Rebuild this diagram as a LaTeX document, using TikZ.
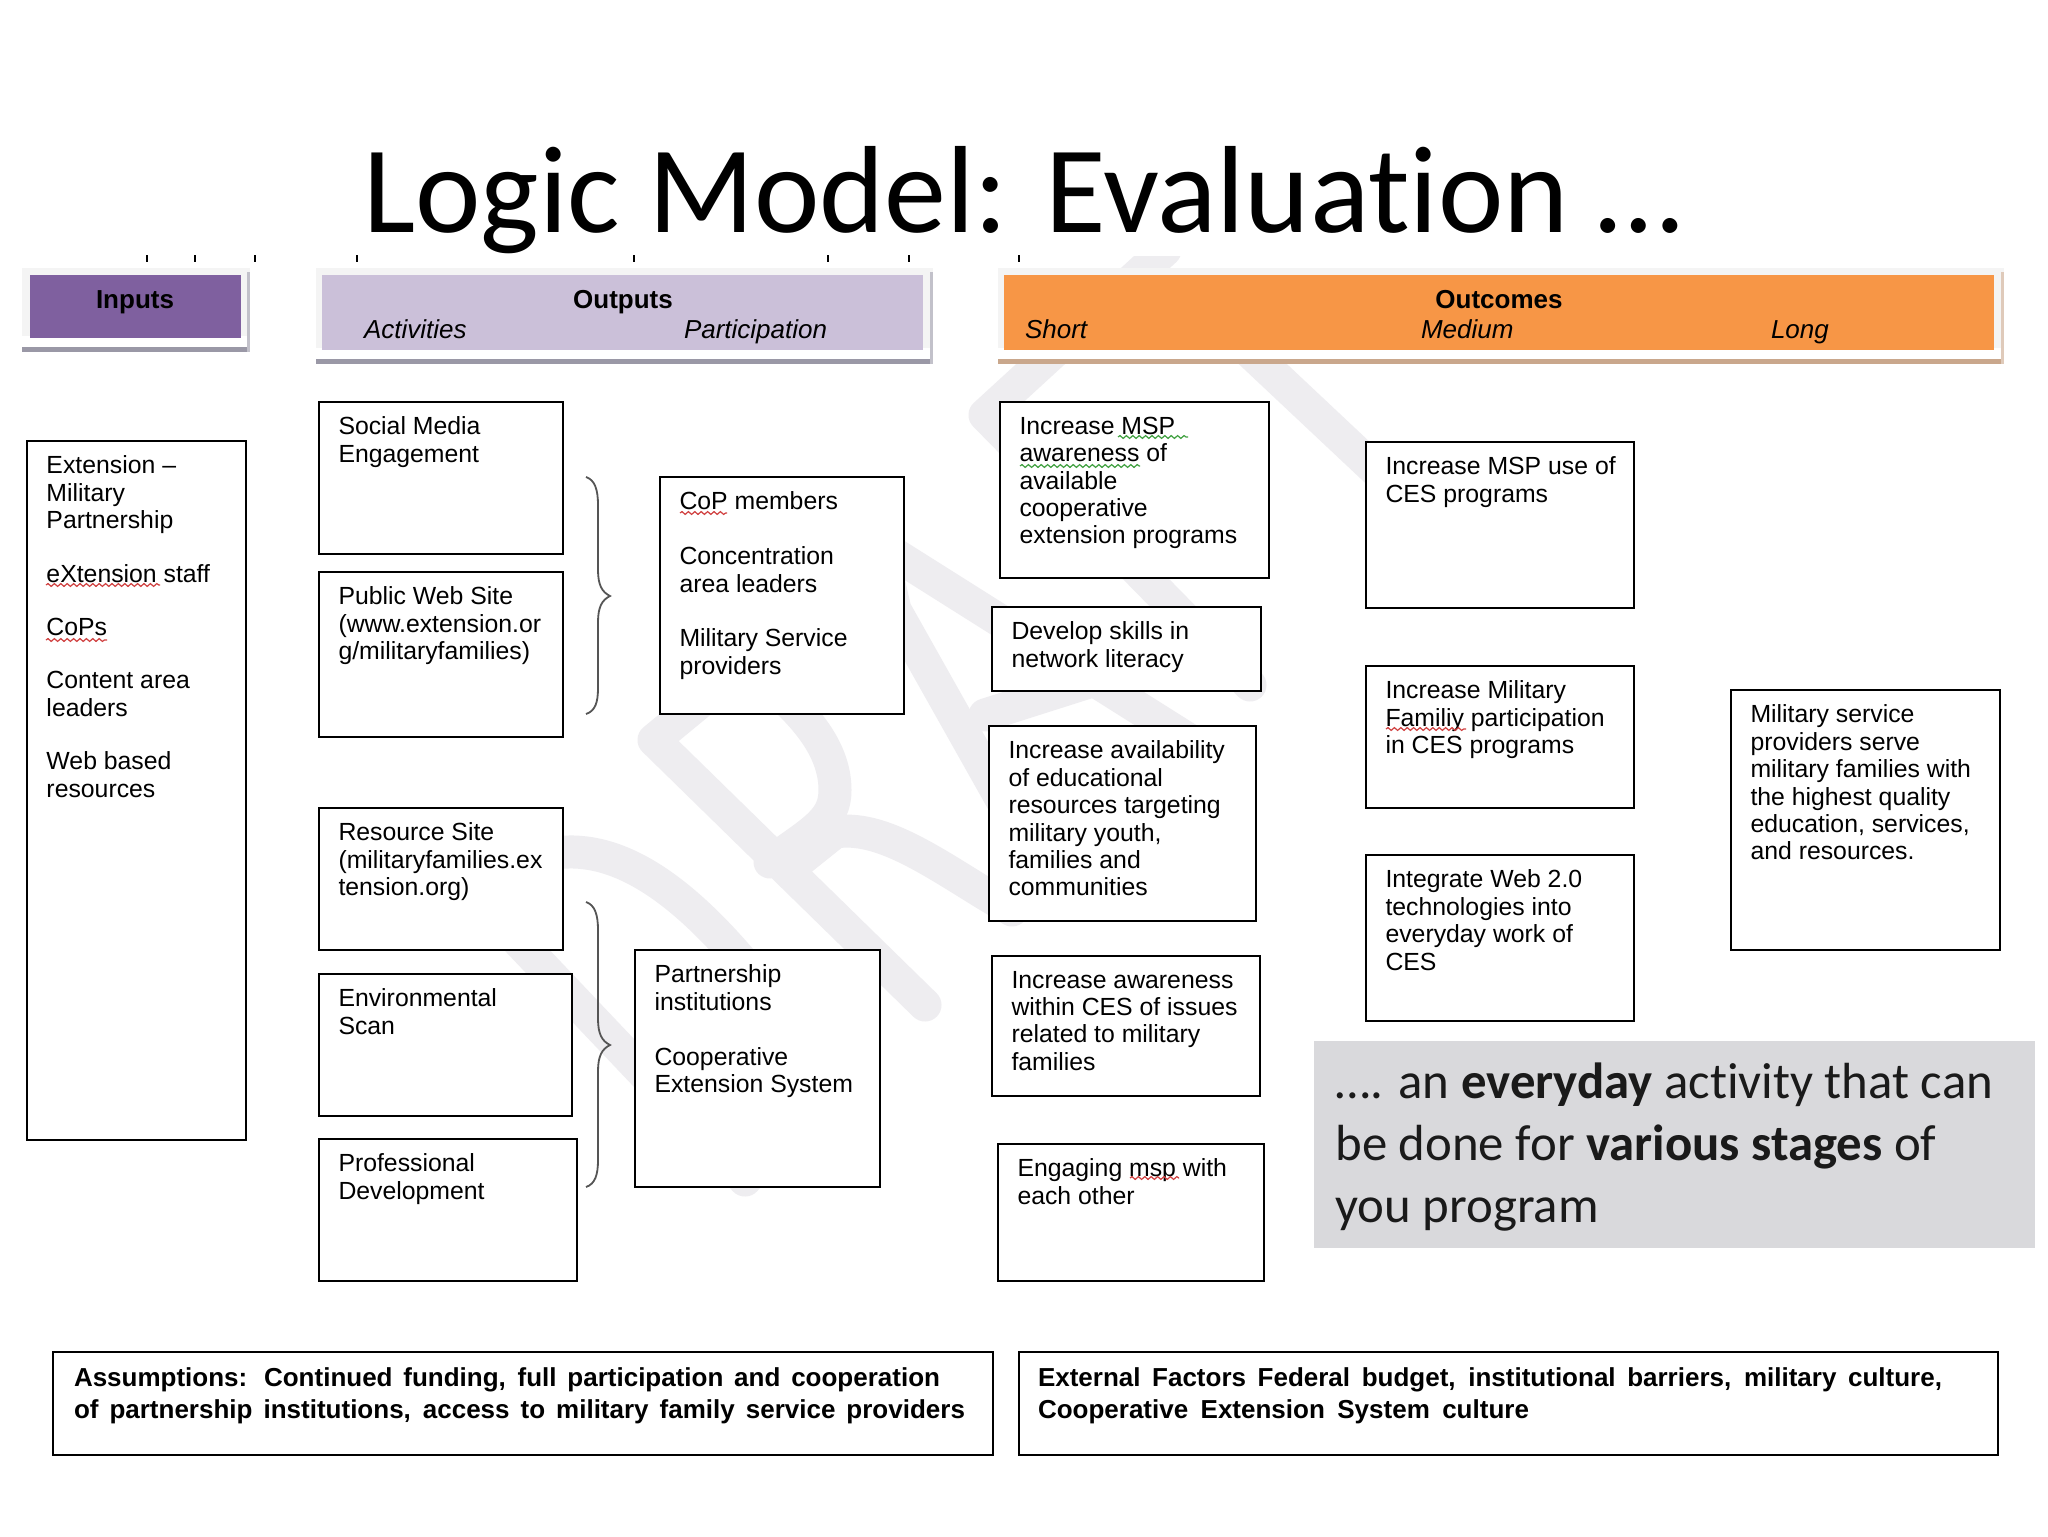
\documentclass[tikz,border=0pt]{standalone}
\usepackage{fontspec}
\setmainfont{Liberation Sans}
\newfontfamily\carl[Ligatures=NoCommon]{Carlito}
\usetikzlibrary{decorations.pathmorphing}
\tikzset{
  x=0.5pt,y=-0.5pt,
  boxst/.style={draw=black,fill=white,line width=1.25pt,rectangle,inner sep=0pt,outer sep=0pt,anchor=north west},
  txt/.style={inner sep=0pt,outer sep=0pt,anchor=north west,align=left,font=\fontsize{12.4pt}{13.7pt}\selectfont},
  hd/.style={inner sep=0pt,outer sep=0pt,anchor=base,font=\fontsize{13pt}{15pt}\selectfont\bfseries},
  sub/.style={inner sep=0pt,outer sep=0pt,anchor=base west,font=\fontsize{13pt}{15pt}\selectfont\itshape},
  wm/.style={draw=wmgrey,line width=16.5pt,line cap=round,line join=round},
  bracest/.style={draw=bracegrey,line width=0.9pt},
  squig/.style={draw=#1,line width=0.6pt,decorate,decoration={snake,amplitude=0.7pt,segment length=3.2pt}},
  tick/.style={draw=black,line width=1pt},
  foot/.style={inner sep=0pt,outer sep=0pt,anchor=base west,font=\fontsize{13pt}{15pt}\selectfont\bfseries},
}
\definecolor{wmgrey}{HTML}{EEEDF0}
\definecolor{bracegrey}{HTML}{555555}
\definecolor{panel}{HTML}{F4F4F4}
\definecolor{purp}{HTML}{7F609F}
\definecolor{lav}{HTML}{CBC0D9}
\definecolor{orng}{HTML}{F79646}
\definecolor{shA}{HTML}{9A98A6}
\definecolor{shB}{HTML}{C9A78C}
\definecolor{callout}{HTML}{D9D9DC}
\definecolor{notetext}{HTML}{1A1A1A}
\definecolor{sqred}{HTML}{D04040}
\definecolor{sqgreen}{HTML}{40A040}
\newcommand{\bx}[6]{%
  \node[boxst,minimum width=(#4-#2)*0.5pt,minimum height=(#5-#3)*0.5pt] (#1) at (#2,#3) {};
  \node[txt] (#1t) at (#2+19.5,#3+15) {#6};}
\newcommand{\pan}[7]{% x1 inner-x1 inner-x2 x2 bottom inner-bottom colour shadow
  \fill[panel] (#1,268) rectangle (#4,#5);
  \fill[#7] (#1,#5-5) rectangle (#4,#5);
  \fill[#7!60!white] (#4-3,272) rectangle (#4,#5);
  \fill[white] (#1,#5-16) rectangle (#4-3,#5-5);}
\begin{document}
\begin{tikzpicture}
\useasboundingbox (0,0) rectangle (2048,1536);
\fill[white] (0,0) rectangle (2048,1536);
% watermark
\begin{scope}
\clip (0,256) rectangle (2048,1536);
% D
\draw[wm] (470,890) -- (745,1180) .. controls (800,1120) and (815,1040) .. (745,965) .. controls (690,900) and (630,850) .. (567,852) .. controls (530,852) and (500,865) .. (470,890);
% R
\draw[wm] (925,1005) -- (654,740) -- (745,665) .. controls (790,700) and (835,740) .. (835,790) .. controls (835,820) and (815,830) .. (770,862);
\draw[wm] (790,868) -- (835,832) .. controls (880,825) and (930,860) .. (987,895) -- (1012,910);
% A
\draw[wm] (1205,750) -- (880,545) -- (895,610) -- (985,770) -- (1030,850);
\draw[wm] (985,715) -- (1095,680);
% F
\draw[wm] (1165,250) -- (985,415) -- (1250,685);
\draw[wm] (1090,520) -- (1200,430);
% T
\draw[wm] (1200,305) -- (1450,540);
\end{scope}
% clipped remnant ticks
\foreach \tx in {147,195,255,357,634,828,909,1019} \draw[tick] (\tx,255) -- (\tx,262);
% title
\node[inner sep=0pt,anchor=base,font=\fontsize{62pt}{70pt}\selectfont\carl] (title) at (1023,232) {Logic Model: Evaluation …};
% header panels
\pan{22}{30}{241}{250}{352}{338}{shA}
\fill[purp] (30,275) rectangle (241,338);
\pan{316}{322}{923}{933}{364}{350}{shA}
\fill[lav] (322,275) rectangle (923,350);
\pan{998}{1004}{1994}{2004}{364}{350}{shB}
\fill[orng] (1004,275) rectangle (1994,350);
\node[hd] (hInputs) at (135,308) {Inputs};
\node[hd] (hOutputs) at (623,308) {Outputs};
\node[sub] (hAct) at (364,338) {Activities};
\node[sub] (hPart) at (684,338) {Participation};
\node[hd] (hOutcomes) at (1499,308) {Outcomes};
\node[sub] (hShort) at (1025,338) {Short};
\node[sub] (hMed) at (1421,338) {Medium};
\node[sub] (hLong) at (1771,338) {Long};
% boxes
\bx{inp}{27}{441}{246}{1140}{Extension –\\Military\\Partnership\\[13pt]eXtension staff\\[13pt]CoPs\\[13pt]Content area\\leaders\\[13pt]Web based\\resources}
\bx{soc}{319}{402}{563}{554}{Social Media\\Engagement}
\bx{pub}{319}{572}{563}{737}{Public Web Site\\(www.extension.or\\g/militaryfamilies)}
\bx{cop}{660}{477}{904}{714}{CoP members\\[13.7pt]Concentration\\area leaders\\[13.7pt]Military Service\\providers}
\bx{res}{319}{808}{563}{950}{Resource Site\\(militaryfamilies.ex\\tension.org)}
\bx{env}{319}{974}{572}{1116}{Environmental\\Scan}
\bx{prof}{319}{1139}{577}{1281}{Professional\\Development}
\bx{part}{635}{950}{880}{1187}{Partnership\\institutions\\[13.7pt]Cooperative\\Extension System}
\bx{aw}{1000}{402}{1269}{578}{Increase MSP\\awareness of\\available\\cooperative\\extension programs}
\bx{dev}{992}{607}{1261}{691}{Develop skills in\\network literacy}
\bx{avail}{989}{726}{1256}{921}{Increase availability\\of educational\\resources targeting\\military youth,\\families and\\communities}
\bx{iaw}{992}{956}{1260}{1096}{Increase awareness\\within CES of issues\\related to military\\families}
\bx{eng}{998}{1144}{1264}{1281}{Engaging msp with\\each other}
\bx{use}{1366}{442}{1634}{608}{Increase MSP use of\\CES programs}
\bx{fam}{1366}{666}{1634}{808}{Increase Military\\Familiy participation\\in CES programs}
\bx{web}{1366}{855}{1634}{1021}{Integrate Web 2.0\\technologies into\\everyday work of\\CES}
\bx{mil}{1731}{690}{2000}{950}{Military service\\providers serve\\military families with\\the highest quality\\education, services,\\and resources.}
% braces
\draw[bracest] (586,477) .. controls (595,480) and (598,490) .. (598,505) -- (598,570) .. controls (598,585) and (602,592) .. (610,596) .. controls (602,600) and (598,607) .. (598,622) -- (598,688) .. controls (598,703) and (595,711) .. (586,714);
\draw[bracest] (586,902) .. controls (595,905) and (598,915) .. (598,930) -- (598,1019) .. controls (598,1034) and (602,1041) .. (610,1045) .. controls (602,1049) and (598,1056) .. (598,1071) -- (598,1160) .. controls (598,1175) and (595,1184) .. (586,1187);
% spell-check squiggles
\draw[squig=sqred] (46,585) -- (160,585);
\draw[squig=sqred] (46,640) -- (107,640);
\draw[squig=sqred] (680,513) -- (727,513);
\draw[squig=sqred] (1386,729) -- (1466,729);
\draw[squig=sqred] (1130,1178) -- (1179,1178);
\draw[squig=sqgreen] (1118,437) -- (1188,437);
\draw[squig=sqgreen] (1020,466) -- (1140,466);
% callout
\fill[callout] (1314,1041) rectangle (2035,1248);
\node[inner sep=0pt,anchor=north west,align=left,text=notetext,font=\fontsize{25.4pt}{31pt}\selectfont\carl] (note) at (1335,1062) {…. an \textbf{everyday} activity that can\\be done for \textbf{various stages} of\\you program};
% footers
\node[boxst,minimum width=470pt,minimum height=51.5pt] (assume) at (53,1352) {};
\node[foot] (a1) at (74,1386) {\makebox[433pt][s]{Assumptions: Continued funding, full participation and cooperation}};
\node[foot] (a2) at (74,1418) {\makebox[445.5pt][s]{of partnership institutions, access to military family service providers}};
\node[boxst,minimum width=489.5pt,minimum height=51.5pt] (extern) at (1019,1352) {};
\node[foot] (e1) at (1038,1386) {\makebox[452pt][s]{External Factors Federal budget, institutional barriers, military culture,}};
\node[foot] (e2) at (1038,1418) {\makebox[245.5pt][s]{Cooperative Extension System culture}};
\end{tikzpicture}
\end{document}
